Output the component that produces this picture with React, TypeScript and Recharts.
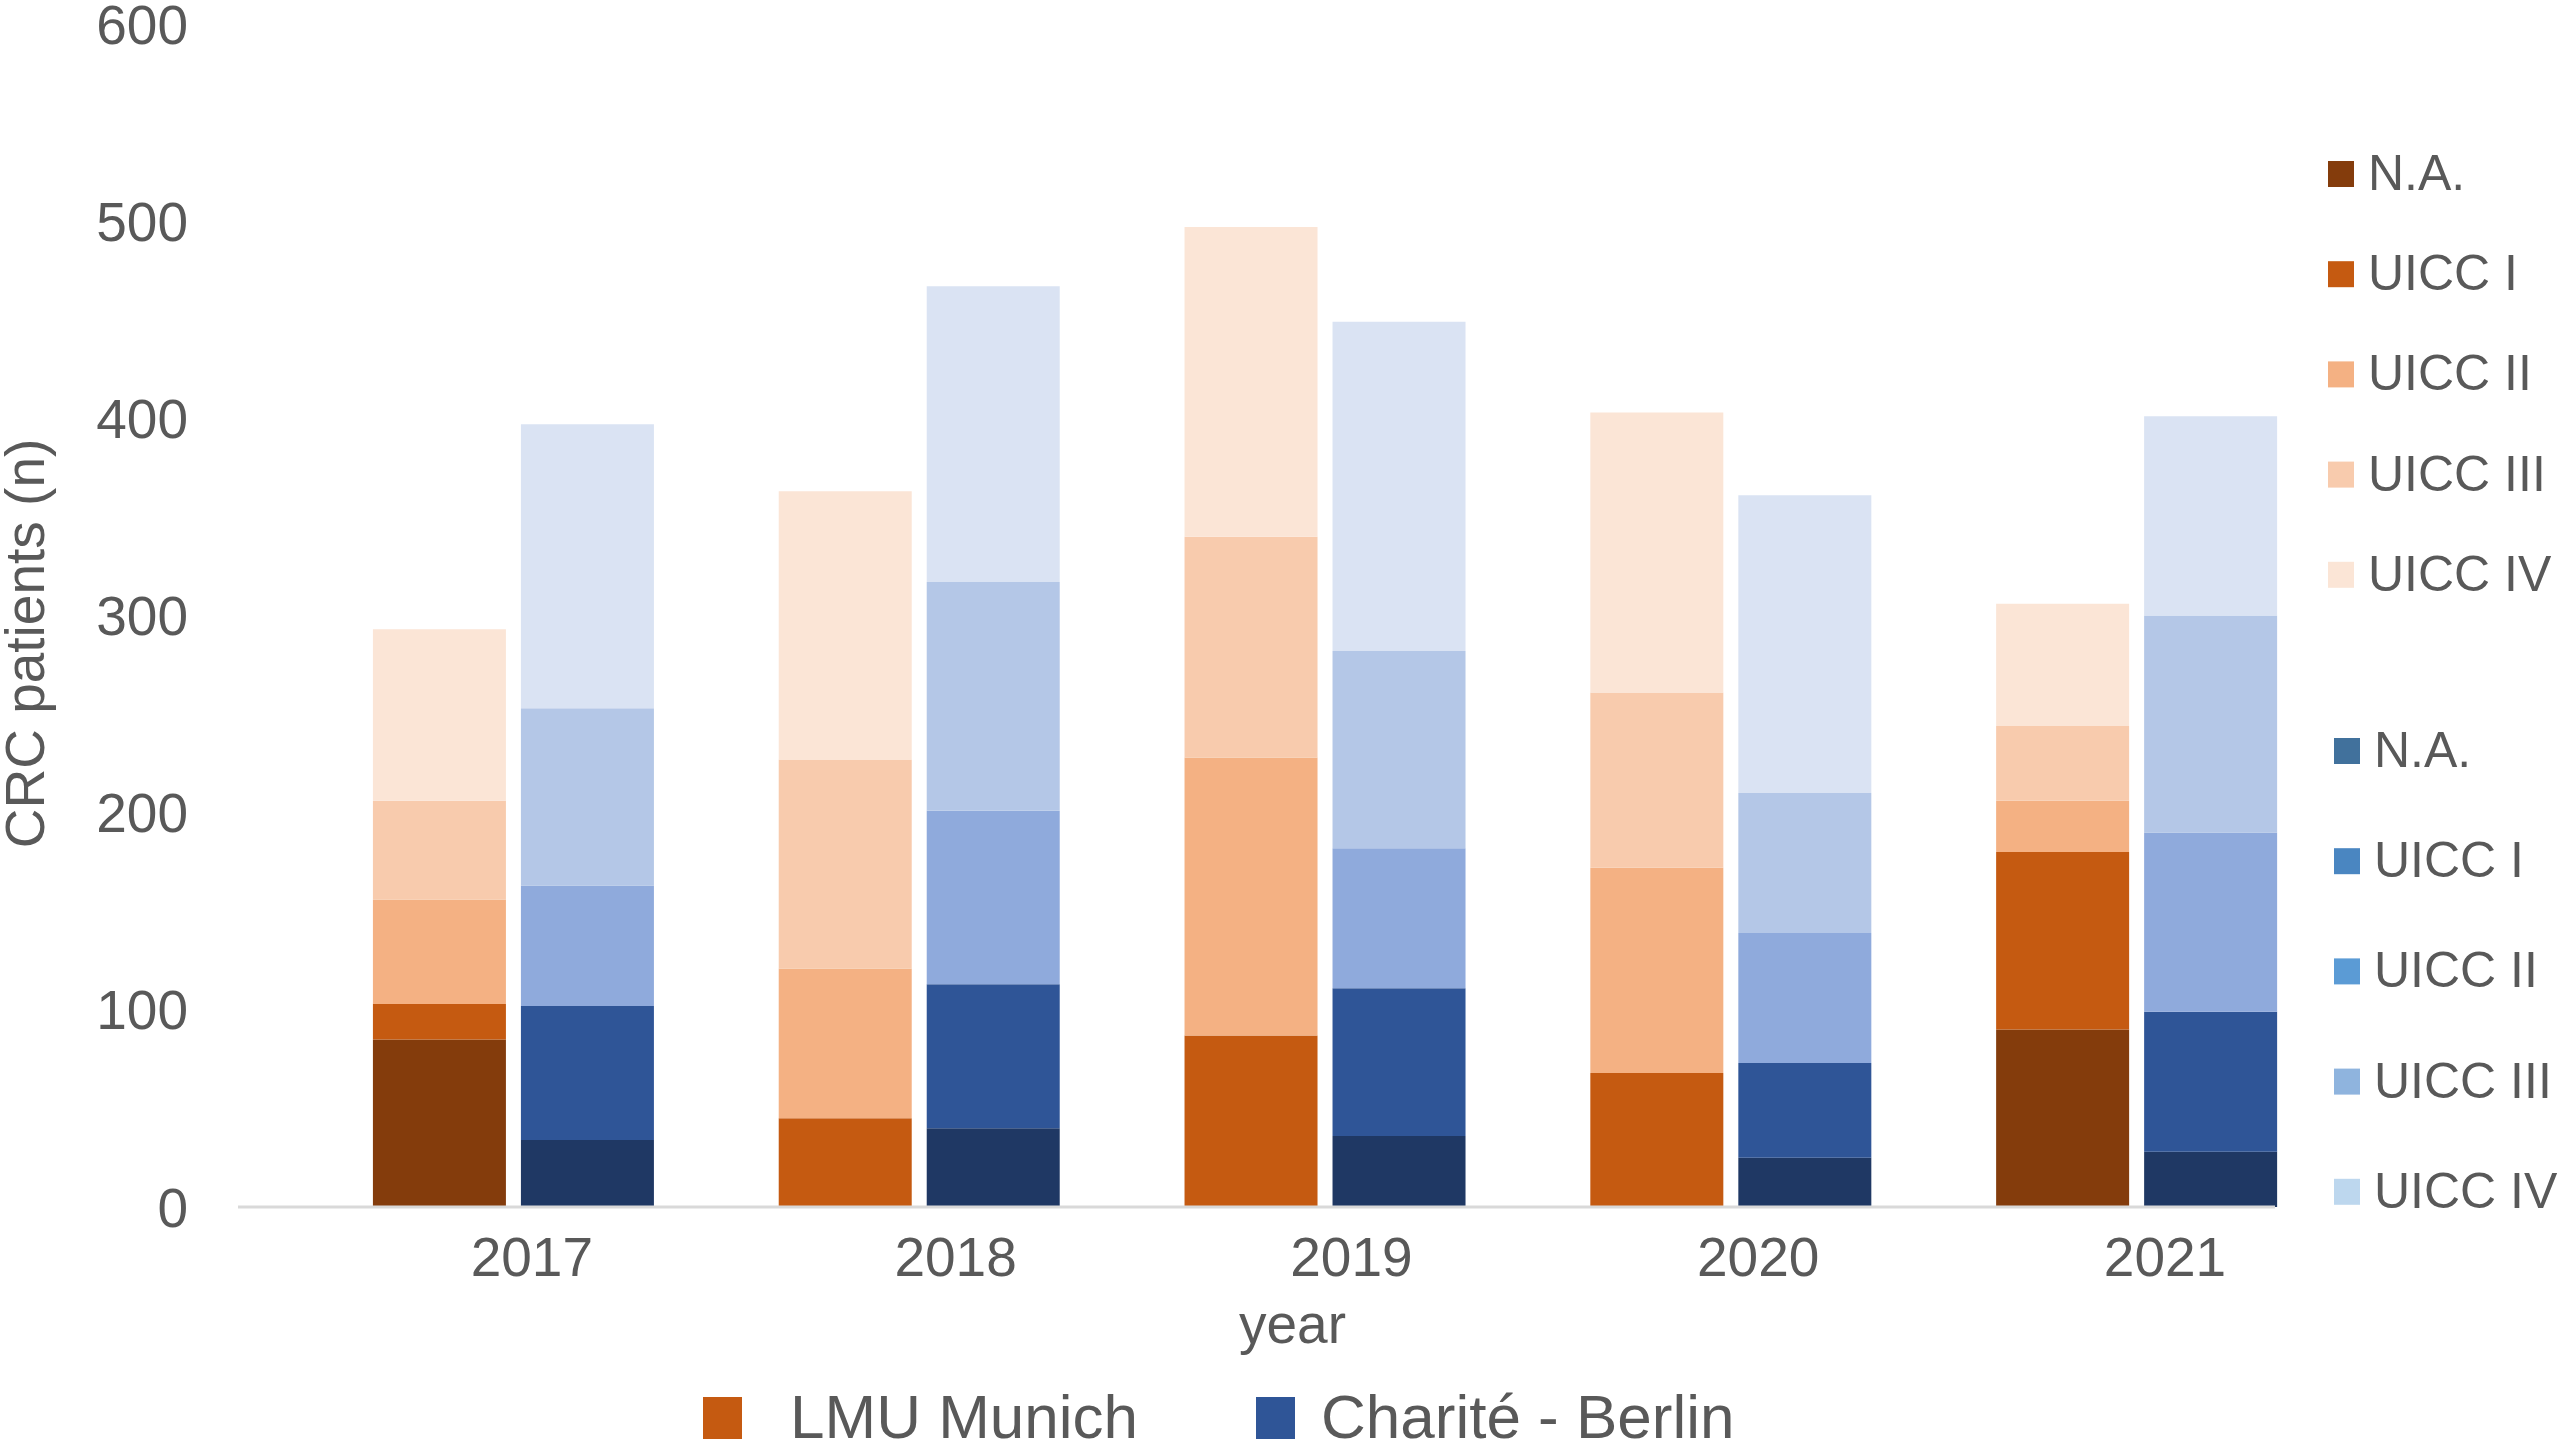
import React from 'react';
import { BarChart, Bar, XAxis, YAxis, Legend, Label } from 'recharts';

const years = ['2017', '2018', '2019', '2020', '2021'];
const positions = [0, 1, 2, 3, 4];

const lmuNA = [85, 0, 0, 0, 90];
const lmuI = [18, 45, 87, 68, 90];
const lmuII = [53, 76, 141, 104, 26];
const lmuIII = [50, 106, 112, 89, 38];
const lmuIV = [87, 136, 157, 142, 62];

const chaNA = [34, 40, 36, 25, 28];
const chaI = [68, 73, 75, 48, 71];
const chaII = [61, 88, 71, 66, 91];
const chaIII = [90, 116, 100, 71, 110];
const chaIV = [144, 150, 167, 151, 101];

const yTicks = [0, 100, 200, 300, 400, 500, 600];
const stageLabels = ['N.A.', 'UICC I', 'UICC II', 'UICC III', 'UICC IV'];
const lmuColors = ['#843C0C', '#C55A11', '#F4B183', '#F8CBAD', '#FBE5D6'];
const chaColors = ['#1F3864', '#2F5597', '#8FAADC', '#B4C7E7', '#DAE3F3'];
const chaLegendColors = ['#41719C', '#4A86C1', '#5B9BD5', '#8FB4DE', '#BDD7EE'];
const siteLabels = ['LMU Munich', 'Charité - Berlin'];
const siteColors = ['#C55A11', '#2F5597'];
const yLabel = 'CRC patients (n)';
const xLabel = 'year';

// horizontal nudge of each year label relative to its bar pair (px)
const tickNudge = [18, 36, 26, 27, 28];

const lmuSeries = [lmuNA, lmuI, lmuII, lmuIII, lmuIV];
const chaSeries = [chaNA, chaI, chaII, chaIII, chaIV];
const lmuKeys = ['lmuNA', 'lmuI', 'lmuII', 'lmuIII', 'lmuIV'];
const chaKeys = ['chaNA', 'chaI', 'chaII', 'chaIII', 'chaIV'];

const data = years.map((y, i) => {
  const row: Record<string, number | string> = { pos: positions[i], year: y };
  lmuKeys.forEach((k, j) => (row[k] = lmuSeries[j][i]));
  chaKeys.forEach((k, j) => (row[k] = chaSeries[j][i]));
  return row;
});

const FONT = '"Liberation Sans", Arial, Helvetica, sans-serif';
const TXT = '#595959';

const XTick = (props: any) => {
  const { x, y, payload } = props;
  const i = payload.value;
  return (
    <text x={x + (tickNudge[i] ?? 26)} y={y} dy="0.71em" textAnchor="middle" fill={TXT} fontSize={55} fontFamily={FONT}>
      {years[i]}
    </text>
  );
};

const YTitle = (props: any) => {
  const vb = props.viewBox || { x: 0, y: 24, width: 238, height: 1183 };
  const cx = vb.x + 44;
  const cy = vb.y + vb.height / 2 + 28;
  return (
    <text x={cx} y={cy} transform={`rotate(-90 ${cx} ${cy})`} textAnchor="middle" fill={TXT} fontSize={55} fontFamily={FONT}>
      {yLabel}
    </text>
  );
};

const XTitle = (props: any) => {
  const vb = props.viewBox || { x: 238, y: 1207, width: 2037, height: 100 };
  return (
    <text x={vb.x + vb.width / 2 + 36} y={vb.y + 136} textAnchor="middle" fill={TXT} fontSize={55} fontFamily={FONT}>
      {xLabel}
    </text>
  );
};

const Legends = () => (
  <svg width={2559} height={1443} style={{ position: 'absolute', left: 0, top: 0 }}>
    {stageLabels.map((l, i) => {
      const cy = 174 + i * 100.2;
      return (
        <g key={'o' + i}>
          <rect x={2328} y={cy - 13} width={26} height={26} fill={lmuColors[i]} />
          <text x={2368} y={cy + 16} fill={TXT} fontSize={50} fontFamily={FONT}>{l}</text>
        </g>
      );
    })}
    {stageLabels.map((l, i) => {
      const cy = 751 + i * 110.2;
      return (
        <g key={'b' + i}>
          <rect x={2334} y={cy - 13} width={26} height={26} fill={chaLegendColors[i]} />
          <text x={2374} y={cy + 16} fill={TXT} fontSize={50} fontFamily={FONT}>{l}</text>
        </g>
      );
    })}
    {siteLabels.map((l, i) => {
      const sx = [703, 1256][i];
      const tx = [790, 1321][i];
      return (
        <g key={'s' + i}>
          <rect x={sx} y={1397} width={39} height={42} fill={siteColors[i]} />
          <text x={tx} y={1438} fill={TXT} fontSize={62} fontFamily={FONT}>{l}</text>
        </g>
      );
    })}
  </svg>
);

export default function App() {
  return (
    <div style={{ position: 'absolute', left: 0, top: 0, width: 2559, height: 1443, background: '#fff' }}>
      <BarChart
        width={2559}
        height={1443}
        data={data}
        margin={{ top: 24, right: 284, bottom: 136, left: 0 }}
        barSize={133}
        barGap={15}
        style={{ fontFamily: FONT }}
      >
        <XAxis
          type="number"
          dataKey="pos"
          domain={[-0.6797, 4.34]}
          ticks={positions}
          height={100}
          tickSize={0}
          tickMargin={30}
          tickLine={false}
          axisLine={{ stroke: '#D9D9D9', strokeWidth: 3 }}
          tick={<XTick />}
          interval={0}
        >
          <Label content={<XTitle />} />
        </XAxis>
        <YAxis
          type="number"
          domain={[0, 600]}
          ticks={yTicks}
          width={238}
          axisLine={false}
          tickLine={false}
          tickSize={0}
          tickMargin={50}
          tick={{ fill: TXT, fontSize: 55, fontFamily: FONT }}
          interval={0}
        >
          <Label content={<YTitle />} />
        </YAxis>
        {lmuKeys.map((k, j) => (
          <Bar key={k} dataKey={k} stackId="lmu" fill={lmuColors[j]} isAnimationActive={false} />
        ))}
        {chaKeys.map((k, j) => (
          <Bar key={k} dataKey={k} stackId="cha" fill={chaColors[j]} isAnimationActive={false} />
        ))}
        <Legend
          layout="vertical"
          align="center"
          verticalAlign="middle"
          content={<Legends />}
          wrapperStyle={{ left: 0, top: 0, width: 2559, height: 1443, pointerEvents: 'none' }}
        />
      </BarChart>
    </div>
  );
}
